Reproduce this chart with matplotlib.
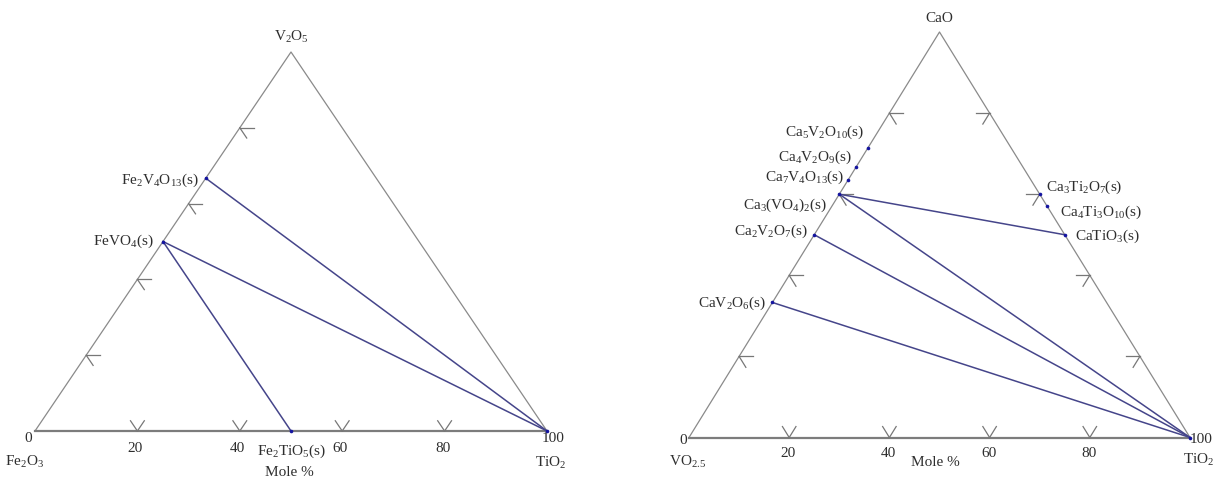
import re
import matplotlib
matplotlib.use("Agg")
import matplotlib.pyplot as plt

plt.rcParams["font.family"] = ["Liberation Serif", "DejaVu Serif"]
plt.rcParams["mathtext.fontset"] = "custom"
plt.rcParams["mathtext.rm"] = "Liberation Serif"
plt.rcParams["mathtext.it"] = "Liberation Serif:italic"

tick_values = [20, 40, 60, 80]

# Fe2O3 - TiO2 - V2O5, mole fractions of TiO2 and V2O5
fe_corners = ["Fe2O3", "TiO2", "V2O5"]
fe_phases = ["Fe2V4O13(s)", "FeVO4(s)", "Fe2TiO5(s)", "TiO2"]
fe_tio2 = [0.0, 0.0, 0.5, 1.0]
fe_v2o5 = [0.667, 0.5, 0.0, 0.0]
fe_ties = [(0, 3), (1, 3), (1, 2)]

# VO2.5 - TiO2 - CaO, mole fractions of TiO2 and CaO
ca_corners = ["VO2.5", "TiO2", "CaO"]
ca_phases = ["Ca5V2O10(s)", "Ca4V2O9(s)", "Ca7V4O13(s)", "Ca3(VO4)2(s)",
             "Ca2V2O7(s)", "CaV2O6(s)", "Ca3Ti2O7(s)", "Ca4Ti3O10(s)",
             "CaTiO3(s)", "TiO2"]
ca_tio2 = [0.0, 0.0, 0.0, 0.0, 0.0, 0.0, 0.4, 0.429, 0.5, 1.0]
ca_cao = [0.714, 0.667, 0.636, 0.6, 0.5, 0.333, 0.6, 0.571, 0.5, 0.0]
ca_ties = [(5, 9), (4, 9), (3, 9), (3, 8)]

EDGE = "#8a8a8a"
TIE = "#45458a"
DOT = "#1414a0"
INK = "#2e2e2e"
W, H = 1216, 488
PT = 0.72  # points per pixel at 100 dpi


def chem(s):
    # numbers inside a formula become subscripts
    return re.sub(r"(\d+(?:\.\d+)?)", r"$_{\\mathregular{\1}}$", s)


def xy(b, c):
    return b + c / 2.0, c


def panel(fig, box, corners, phases, right, top, ties, labels, ticks_on, offs):
    x0, yb, w, h = box
    ax = fig.add_axes([x0 / W, 1 - yb / H, w / W, h / H])
    ax.set_xlim(0, 1)
    ax.set_ylim(0, 1)
    ax.axis("off")

    # frame
    ax.plot([0, 0.5, 1], [0, 1, 0], color=EDGE, lw=0.9, clip_on=False)
    ax.plot([0, 1], [0, 0], color="#7c7c7c", lw=1.6, clip_on=False)

    # tick marks parallel to the other two sides
    t = 0.027
    for v in tick_values:
        f = v / 100.0
        segs = []
        if "bottom" in ticks_on:
            segs += [((f, 0), (f, t)), ((f, 0), (f - t, t))]
        if "left" in ticks_on:
            segs += [((0, f), (t, f)), ((0, f), (t, f - t))]
        if "right" in ticks_on:
            segs += [((1 - f, f), (1 - f - t, f)), ((1 - f, f), (1 - f, f - t))]
        for p, q in segs:
            (ax1, ay1), (ax2, ay2) = xy(*p), xy(*q)
            ax.plot([ax1, ax2], [ay1, ay2], color="#777777", lw=0.9, clip_on=False)

    # tie lines
    for i, j in ties:
        xa, ya = xy(right[i], top[i])
        xb, yb2 = xy(right[j], top[j])
        ax.plot([xa, xb], [ya, yb2], color=TIE, lw=1.1, clip_on=False)

    # compounds
    px, py = zip(*[xy(b, c) for b, c in zip(right, top)])
    ax.plot(px, py, "o", ms=2.6, color=DOT, mec="none", clip_on=False, zorder=5)
    for name, b, c, lab in zip(phases, right, top, labels):
        if lab is None:
            continue
        dx, dy, ha = lab
        ax.annotate(chem(name), xy(b, c), xytext=(dx * PT, dy * PT),
                    textcoords="offset points", ha=ha, va="center",
                    fontsize=11, color=INK)

    # axis numbers and corner names
    for v in tick_values:
        ax.annotate(str(v), (v / 100.0, 0), xytext=(offs["num"][0] * PT, offs["num"][1] * PT),
                    textcoords="offset points", ha="center", va="center",
                    fontsize=11, color=INK)
    for val, pos, key in [("0", (0, 0), "zero"), ("100", (1, 0), "hundred")]:
        ax.annotate(val, pos, xytext=(offs[key][0] * PT, offs[key][1] * PT),
                    textcoords="offset points", ha="center", va="center",
                    fontsize=11, color=INK)
    for name, pos, key in zip(corners, [(0, 0), (1, 0), (0.5, 1)], ["left", "right", "top"]):
        ax.annotate(chem(name), pos, xytext=(offs[key][0] * PT, offs[key][1] * PT),
                    textcoords="offset points", ha="center", va="center",
                    fontsize=11, color=INK)
    ax.annotate("Mole %", (0.5, 0), xytext=(offs["mole"][0] * PT, offs["mole"][1] * PT),
                textcoords="offset points", ha="center", va="center",
                fontsize=11, color=INK)
    return ax


fig = plt.figure(figsize=(W / 100, H / 100), dpi=100)

panel(fig, (35, 431, 512, 379), fe_corners, fe_phases, fe_tio2, fe_v2o5, fe_ties,
      [(-7, -2, "right"), (-9, 0, "right"), (0, -20, "center"), None],
      ("bottom", "left"),
      {"num": (-2, -17), "zero": (-7, -7), "hundred": (6, -8), "left": (-10, -31),
       "right": (4, -32), "top": (0, 15), "mole": (-2, -41)})

panel(fig, (689, 437.5, 501, 405.5), ca_corners, ca_phases, ca_tio2, ca_cao, ca_ties,
      [(-4, 16, "right"), (-4, 10, "right"), (-4, 2, "right"), (-12, -11, "right"),
       (-6, 3, "right"), (-6, -1, "right"), (6, 7, "left"), (13, -6, "left"),
       (10, -1.5, "left"), None],
      ("bottom", "left", "right"),
      {"num": (-1, -16), "zero": (-6, -3), "hundred": (11, -2), "left": (-1, -24),
       "right": (9, -22), "top": (0, 14), "mole": (-4, -25)})

fig.savefig("out.png", dpi=100)
